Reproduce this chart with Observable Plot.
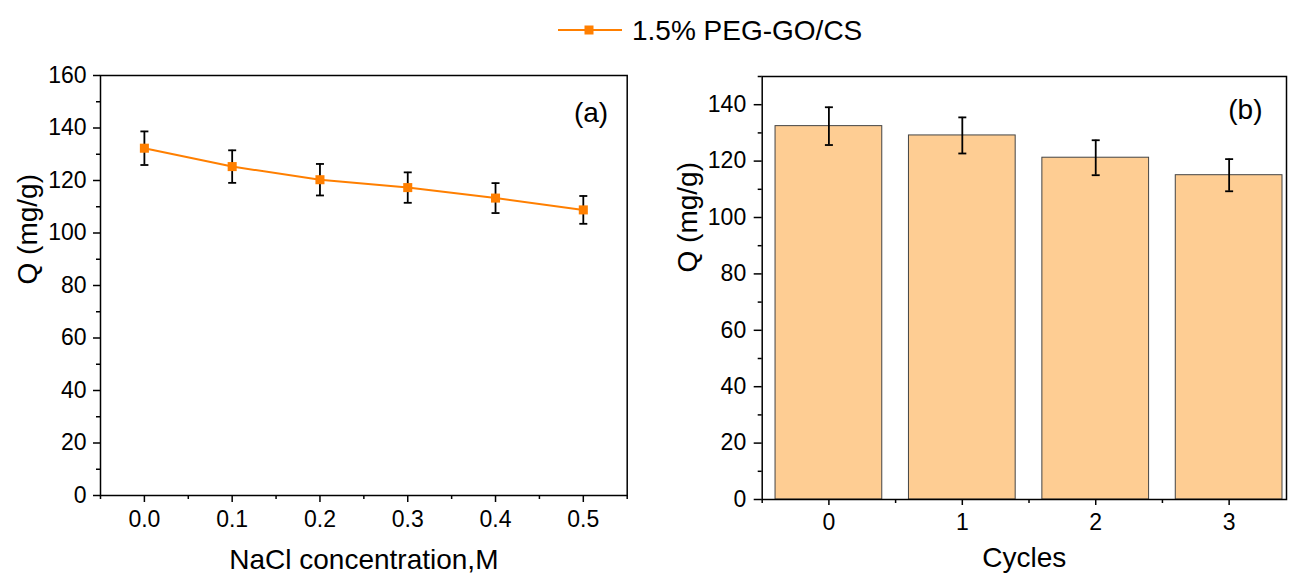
<!DOCTYPE html>
<html><head><meta charset="utf-8">
<script src="https://cdn.jsdelivr.net/npm/d3@7"></script>
<script src="https://cdn.jsdelivr.net/npm/@observablehq/plot@0.6"></script>
<style>
body{margin:0;background:#fff;font-family:"Liberation Sans",Arial,sans-serif;}
#wrap{position:relative;width:1289px;height:574px;overflow:hidden;background:#fff;}
#legend{position:absolute;left:0;top:0;width:1289px;height:60px;}
#left{position:absolute;left:0;top:60px;}
#right{position:absolute;left:650px;top:60px;}
</style></head><body>
<div id="wrap"><div id="legend"></div><div id="left"></div><div id="right"></div></div>
<script>
// ---- data ----
const seriesName = "1.5% PEG-GO/CS";
const nacl = [0, 0.1, 0.2, 0.3, 0.4, 0.5];
const qNacl = [132.3, 125.3, 120.3, 117.3, 113.3, 108.8];
const errNacl = [6.4, 6.2, 6.0, 5.8, 5.7, 5.3];
const cycles = [0, 1, 2, 3];
const qCycles = [132.4, 129.1, 121.2, 115.0];
const errCycles = [6.7, 6.4, 6.2, 5.7];
const leftYTicks = [0, 20, 40, 60, 80, 100, 120, 140, 160];
const leftYMinor = [10, 30, 50, 70, 90, 110, 130, 150];
const leftXTicks = [0, 0.1, 0.2, 0.3, 0.4, 0.5];
const leftXMinor = [-0.05, 0.05, 0.15, 0.25, 0.35, 0.45, 0.55];
const rightYTicks = [0, 20, 40, 60, 80, 100, 120, 140];
const rightYMinor = [10, 30, 50, 70, 90, 110, 130, 150];
const rightXTicks = [0, 1, 2, 3];
const rightXMinor = [-0.5, 0.5, 1.5, 2.5];
const labelA = "(a)", labelB = "(b)";
const yTitle = "Q (mg/g)";
const xTitleA = "NaCl concentration,M";
const xTitleB = "Cycles";

const ORANGE = "#FF7F00";
const BARFILL = "#FECD93";
const FONT = "'Liberation Sans', Arial, sans-serif";

const dataL = nacl.map((x, i) => ({x, q: qNacl[i], e: errNacl[i]}));
const dataR = cycles.map((c, i) => ({c, q: qCycles[i], e: errCycles[i]}));

const capSymbol = {draw(ctx, size) { const h = Math.sqrt(size / Math.PI); ctx.moveTo(-h, 0); ctx.lineTo(h, 0); }};

const style = {fontFamily: FONT, fontSize: "23px", color: "black", background: "white", overflow: "visible"};

// ---- left chart ----
const left = Plot.plot({
  width: 650, height: 514,
  marginLeft: 100, marginRight: 23.3, marginTop: 15, marginBottom: 79,
  style,
  x: {domain: [-0.05, 0.55]},
  y: {domain: [0, 160]},
  marks: [
    Plot.axisY(leftYTicks, {tickSize: 7, tickPadding: 7, strokeWidth: 1.5, fontSize: 23, label: null}),
    Plot.axisY(leftYMinor, {tickSize: 4, strokeWidth: 1.5, tickFormat: () => "", label: null}),
    Plot.axisX(leftXTicks, {tickSize: 7, tickPadding: 8.4, strokeWidth: 1.5, fontSize: 23, tickFormat: d => d.toFixed(1), label: null}),
    Plot.axisX(leftXMinor, {tickSize: 4, strokeWidth: 1.5, tickFormat: () => "", label: null}),
    Plot.ruleX(dataL, {x: "x", y1: d => d.q - d.e, y2: d => d.q + d.e, stroke: "black", strokeWidth: 1.8}),
    Plot.dot(dataL, {x: "x", y: d => d.q + d.e, symbol: capSymbol, r: 4, stroke: "black", fill: "none", strokeWidth: 1.8}),
    Plot.dot(dataL, {x: "x", y: d => d.q - d.e, symbol: capSymbol, r: 4, stroke: "black", fill: "none", strokeWidth: 1.8}),
    Plot.line(dataL, {x: "x", y: "q", stroke: ORANGE, strokeWidth: 2}),
    Plot.dot(dataL, {x: "x", y: "q", symbol: "square", r: 5.1, fill: ORANGE, stroke: "none"}),
    Plot.text([labelA], {frameAnchor: "top-right", textAnchor: "end", lineAnchor: "middle", dx: -19, dy: 38, fontSize: 28}),
    Plot.text([xTitleA], {frameAnchor: "bottom", lineAnchor: "middle", dy: 64.5, fontSize: 28}),
    Plot.text([yTitle], {frameAnchor: "left", rotate: -90, lineAnchor: "middle", dx: -72, dy: -1, fontSize: 28}),
    Plot.frame({stroke: "black", strokeWidth: 1.5})
  ]
});
document.getElementById("left").appendChild(left);

// ---- right chart ----
const right = Plot.plot({
  width: 639, height: 514,
  marginLeft: 111.7, marginRight: 3, marginTop: 16, marginBottom: 75,
  style,
  x: {domain: [-0.5, 3.43]},
  y: {domain: [0, 150]},
  marks: [
    Plot.rectY(dataR, {x1: d => d.c - 0.4, x2: d => d.c + 0.4, y: "q", fill: BARFILL, stroke: "#444", strokeWidth: 1}),
    Plot.axisY(rightYTicks, {tickSize: 8, tickPadding: 8, strokeWidth: 1.5, fontSize: 23, label: null}),
    Plot.axisY(rightYMinor, {tickSize: 4, strokeWidth: 1.5, tickFormat: () => "", label: null}),
    Plot.axisX(rightXTicks, {tickSize: 6, tickPadding: 8.6, strokeWidth: 1.5, fontSize: 23, tickFormat: d => String(d), label: null}),
    Plot.axisX(rightXMinor, {tickSize: 4, strokeWidth: 1.5, tickFormat: () => "", label: null}),
    Plot.ruleX(dataR, {x: "c", y1: d => d.q - d.e, y2: d => d.q + d.e, stroke: "black", strokeWidth: 1.8}),
    Plot.dot(dataR, {x: "c", y: d => d.q + d.e, symbol: capSymbol, r: 4, stroke: "black", fill: "none", strokeWidth: 1.8}),
    Plot.dot(dataR, {x: "c", y: d => d.q - d.e, symbol: capSymbol, r: 4, stroke: "black", fill: "none", strokeWidth: 1.8}),
    Plot.text([labelB], {frameAnchor: "top-right", textAnchor: "end", lineAnchor: "middle", dx: -24, dy: 34, fontSize: 28}),
    Plot.text([xTitleB], {frameAnchor: "bottom", lineAnchor: "middle", dy: 59, fontSize: 28}),
    Plot.text([yTitle], {frameAnchor: "left", rotate: -90, lineAnchor: "middle", dx: -74, dy: -15.5, fontSize: 28}),
    Plot.frame({stroke: "black", strokeWidth: 1.5})
  ]
});
document.getElementById("right").appendChild(right);

// ---- legend ----
const lg = d3.select("#legend").append("svg").attr("width", 1289).attr("height", 60);
lg.append("line").attr("x1", 558).attr("x2", 622).attr("y1", 30).attr("y2", 30).attr("stroke", ORANGE).attr("stroke-width", 2);
lg.append("rect").attr("x", 589 - 4.5).attr("y", 30 - 4.5).attr("width", 9).attr("height", 9).attr("fill", ORANGE);
lg.append("text").attr("x", 632).attr("y", 30).attr("dy", "0.35em").attr("font-family", FONT).attr("font-size", 28).attr("fill", "black").text(seriesName);
</script>
</body></html>
